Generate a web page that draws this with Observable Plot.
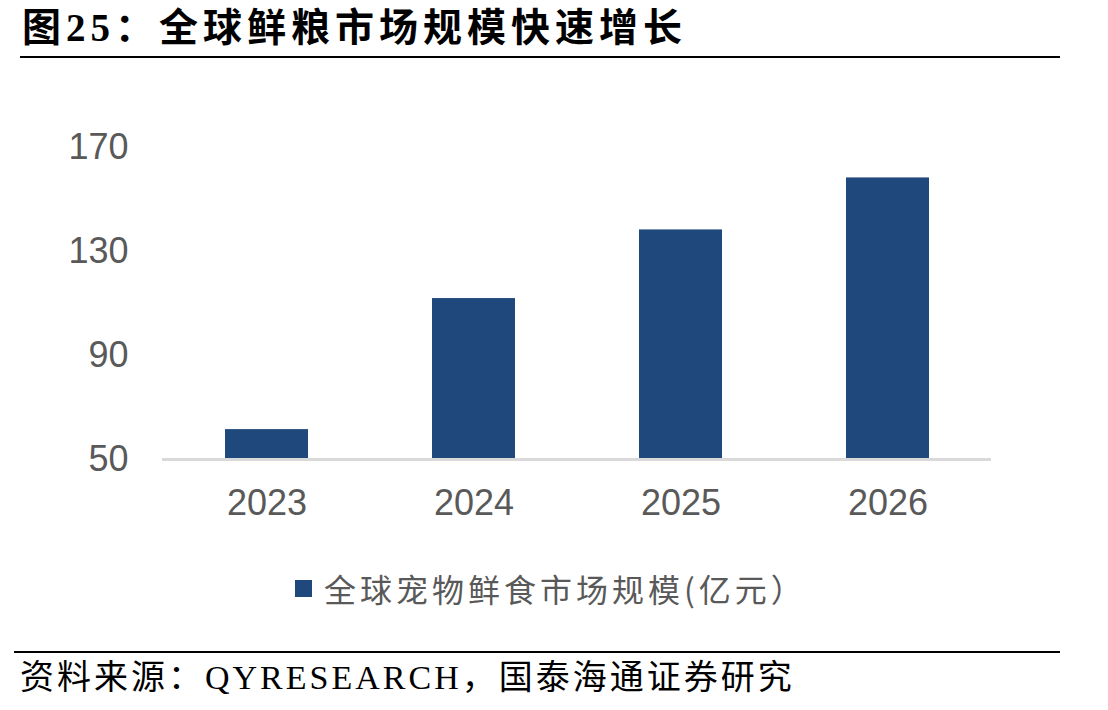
<!DOCTYPE html>
<html><head><meta charset="utf-8">
<script src="https://cdn.jsdelivr.net/npm/d3@7"></script>
<script src="https://cdn.jsdelivr.net/npm/@observablehq/plot@0.6"></script>
<style>
body{margin:0;background:#fff;width:1108px;height:710px;position:relative;overflow:hidden}
#title{position:absolute;left:22px;top:0px;font-family:"Liberation Serif","Noto Sans CJK SC",serif;font-weight:bold;font-size:39px;line-height:56px;color:#000;white-space:nowrap;letter-spacing:5px}
#rule1{position:absolute;left:20px;width:1040px;top:56px;height:2px;background:#000}
#chart{position:absolute;left:0;top:70px}
#legend{position:absolute;left:295px;top:566px;font-family:"Noto Sans CJK SC",sans-serif;font-size:32px;line-height:44px;color:#595959;display:flex;align-items:center;white-space:nowrap;letter-spacing:4px}
#legend span.sw{display:inline-block;width:17px;height:17px;background:#1f497d;margin-right:12px}
#rule2{position:absolute;left:14px;width:1046px;top:651px;height:2px;background:#000}
#source{position:absolute;left:20px;top:654px;font-family:"Liberation Serif","Noto Sans CJK SC",serif;font-size:34px;line-height:48px;color:#000;white-space:nowrap;letter-spacing:3px}
</style></head>
<body>
<div id="title">图25：全球鲜粮市场规模快速增长</div>
<div id="rule1"></div>
<div id="chart"></div>
<div id="legend"><span class="sw"></span><span>全球宠物鲜食市场规模(亿元）</span></div>
<div id="rule2"></div>
<div id="source">资料来源：QYRESEARCH，国泰海通证券研究</div>
<script>
const years = ["2023", "2024", "2025", "2026"];
const values = [61.5, 111.9, 138.3, 158.3];
const yTicks = [50, 90, 130, 170];
const baseValue = 50;

const data = years.map((y, i) => ({year: y, value: values[i]}));

const chart = Plot.plot({
  width: 1108,
  height: 470,
  marginLeft: 162,
  marginRight: 117,
  marginTop: 77,
  marginBottom: 81,
  style: {fontFamily: "'Liberation Sans', Arial, sans-serif", fontSize: "36px", color: "#595959", background: "transparent"},
  x: {domain: years, paddingInner: 0.6, paddingOuter: 0.3, label: null},
  y: {domain: [50, 170], label: null},
  marks: [
    Plot.axisY({ticks: yTicks, tickSize: 0, tickPadding: 34, label: null, fill: "#595959"}),
    Plot.axisX({tickSize: 0, tickPadding: 30, label: null, fill: "#595959"}),
    Plot.barY(data, {x: "year", y1: () => baseValue, y2: "value", fill: "#1f497d"}),
    Plot.ruleY([baseValue], {stroke: "#d9d9d9", strokeWidth: 3})
  ]
});
document.getElementById("chart").appendChild(chart);
</script>
</body></html>
